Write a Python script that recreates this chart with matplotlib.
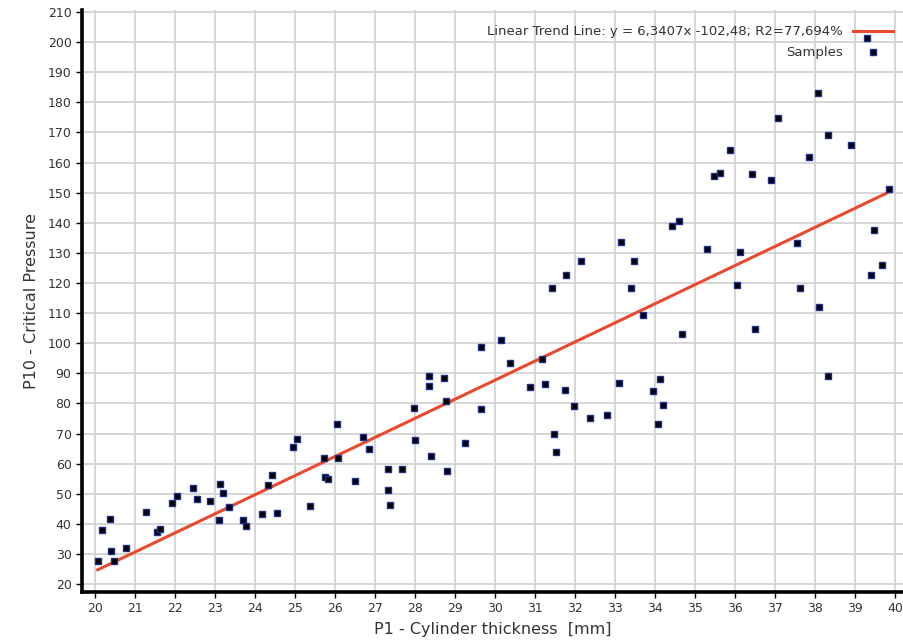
import matplotlib.pyplot as plt
import numpy as np

# samples
thickness = [20.07, 20.18, 20.37, 20.39, 20.47, 20.77, 21.28, 21.56, 21.63, 21.93,
             22.04, 22.44, 22.54, 22.88, 23.13, 23.09, 23.20, 23.35, 23.70, 23.78,
             24.18, 24.33, 24.43, 24.54, 24.95, 25.06, 25.38, 25.72, 25.75, 25.82,
             26.04, 26.08, 26.51, 26.70, 26.84, 27.32, 27.32, 27.38, 27.68, 27.98,
             28.01, 28.34, 28.34, 28.41, 28.73, 28.78, 28.81, 29.24, 29.64, 29.64,
             30.15, 30.37, 30.88, 31.18, 31.24, 31.47, 31.53, 31.76, 31.98, 32.38,
             32.81, 33.11, 34.08, 33.94, 34.13, 34.20, 33.69, 34.67, 36.49, 38.09,
             38.32, 31.43, 31.77, 32.16, 33.14, 33.47, 33.40, 34.42, 34.60, 35.29,
             36.13, 36.06, 37.55, 37.63, 39.40, 39.67, 39.48, 39.84, 35.47, 35.62,
             36.43, 36.90, 35.87, 37.85, 38.32, 38.89, 37.07, 38.08, 39.31]
pressure = [27.7, 37.9, 41.7, 31.1, 27.6, 32.1, 44.1, 37.3, 38.4, 47.0,
            49.4, 51.8, 48.4, 47.5, 53.3, 41.3, 50.4, 45.5, 41.3, 39.3,
            43.2, 52.8, 56.2, 43.6, 65.5, 68.3, 46.1, 62.0, 55.6, 54.8,
            73.2, 62.0, 54.4, 68.8, 64.9, 58.1, 51.4, 46.3, 58.1, 78.6,
            67.9, 89.2, 85.7, 62.6, 88.6, 80.9, 57.7, 66.9, 98.8, 78.0,
            101.2, 93.5, 85.3, 94.9, 86.3, 69.8, 64.0, 84.4, 79.0, 75.1,
            76.1, 86.7, 73.1, 84.3, 88.2, 79.4, 109.5, 103.2, 104.8, 111.9,
            89.2, 118.2, 122.6, 127.4, 133.7, 127.4, 118.2, 139.0, 140.6, 131.3,
            130.3, 119.2, 133.3, 118.2, 122.6, 125.9, 137.6, 151.2, 155.4, 156.5,
            156.1, 154.1, 164.3, 161.8, 169.0, 165.7, 174.8, 183.1, 201.4]

slope, intercept = 6.3407, -102.48
trend_label = 'Linear Trend Line: y = 6,3407x -102,48; R2=77,694%'

x_ticks = np.arange(20, 41, 1)
y_ticks = np.arange(20, 211, 10)

fig = plt.figure(figsize=(9.04, 6.43), dpi=100)
ax = fig.add_axes([0.0907, 0.0793, 0.9093, 0.905])

xs = np.array([min(thickness), max(thickness)])
ax.plot(xs, slope * xs + intercept, color='#e8492f', lw=2.2, label=trend_label, zorder=3)
ax.plot(thickness, pressure, ls='none', marker='s', ms=4.6, mfc='black',
        mec='#1f2d8a', mew=1.0, label='Samples', zorder=4)

ax.set_xlim(19.675, 40.225)
ax.set_ylim(17.4, 210.6)
ax.set_xticks(x_ticks)
ax.set_yticks(y_ticks)
ax.grid(True, color='#d0d0d0', lw=1.2)
ax.set_axisbelow(True)

for s in ['top', 'right']:
    ax.spines[s].set_visible(False)
for s in ['left', 'bottom']:
    ax.spines[s].set_linewidth(2.6)
    ax.spines[s].set_color('black')

ax.tick_params(direction='out', length=4, width=1, colors='black',
               labelcolor='#333333', labelsize=9)

ax.set_xlabel('P1 - Cylinder thickness  [mm]', fontsize=11.5, color='#333333', labelpad=5)
ax.set_ylabel('P10 - Critical Pressure', fontsize=11.5, color='#333333', labelpad=6)

ax.legend(loc='upper right', frameon=False, markerfirst=False, fontsize=9.5,
          handlelength=3.0, borderaxespad=0, labelspacing=0.6,
          bbox_to_anchor=(0.993, 0.983), labelcolor='#333333')

fig.savefig('out.png', dpi=100)
